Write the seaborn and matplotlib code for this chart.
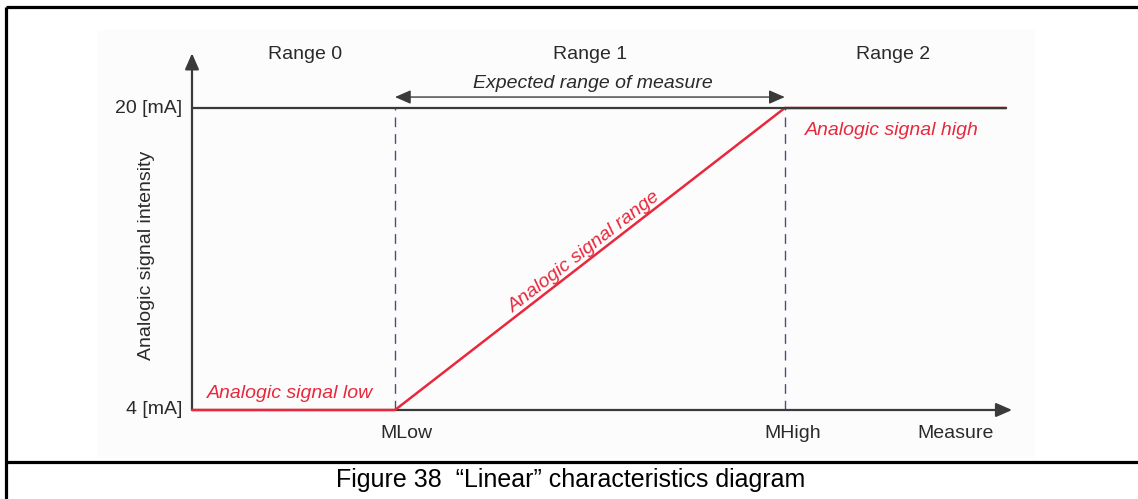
import matplotlib
matplotlib.use('Agg')
import matplotlib.pyplot as plt
from matplotlib.lines import Line2D
from matplotlib.patches import Rectangle
import seaborn as sns
import pandas as pd

sns.set_theme(style='white')
plt.rcParams['font.family'] = ['Liberation Sans', 'DejaVu Sans']

# ── Data ──────────────────────────────────────────────────────────
# measure axis in units of (MLow - origin)
M_LOW = 1.0
M_HIGH = 2.92
M_END = 4.01
I_LOW = 4      # mA
I_HIGH = 20    # mA
measure = [0, M_LOW, M_HIGH, M_END]
signal = [I_LOW, I_LOW, I_HIGH, I_HIGH]
range_labels = ['Range 0', 'Range 1', 'Range 2']
range_centers = [0.557, 1.961, 3.453]

RED = '#e8283c'
AXC = '#3a3a3a'
TXT = '#2a2a2a'
DASH = '#4a4f7a'

df = pd.DataFrame({'measure': measure, 'signal': signal})

W, H = 1138, 499
fig = plt.figure(figsize=(W / 100, H / 100), dpi=100, facecolor='white')
ax = fig.add_axes([0, 0, 1, 1])
# data limits chosen so the diagram sits where the reference puts it
ax.set_xlim(-192 / 203, (W - 192) / 203)
ax.set_ylim(4 - (H - 410) / 18.875, 4 + 410 / 18.875)
ax.axis('off')

# faint drawing background + table frame
fig.add_artist(Rectangle((97 / W, 41 / H), 938 / W, 428 / H, transform=fig.transFigure,
                         facecolor='#fcfcfc', edgecolor='none', zorder=-5))
frame = dict(color='black', lw=2.3, transform=fig.transFigure, solid_capstyle='butt')
fig.add_artist(Line2D([6 / W, 6 / W], [0, 1 - 7 / H], **frame))
fig.add_artist(Line2D([6 / W, 1], [1 - 7 / H, 1 - 7 / H], **frame))
fig.add_artist(Line2D([6 / W, 1], [1 - 462 / H, 1 - 462 / H], **frame))

# axes with arrows
arrow = dict(arrowstyle='-|>,head_length=0.8,head_width=0.35', color=AXC, lw=1.6,
             mutation_scale=12, shrinkA=0, shrinkB=0)
ax.annotate('', xy=(0, 22.9), xytext=(0, I_LOW), arrowprops=arrow)
ax.annotate('', xy=(4.04, I_LOW), xytext=(0, I_LOW), arrowprops=arrow)

# 20 mA reference line
ax.plot([0, M_END], [I_HIGH, I_HIGH], color=AXC, lw=1.6, zorder=4)

# dashed MLow / MHigh markers
for mx in (M_LOW, M_HIGH):
    ax.plot([mx, mx], [I_LOW, I_HIGH], color=DASH, lw=1.0, dashes=(7, 5), zorder=1)

# signal characteristic
sns.lineplot(data=df, x='measure', y='signal', sort=False, estimator=None,
             color=RED, lw=1.8, ax=ax, zorder=3)
ax.set_xlabel('')
ax.set_ylabel('')

# expected range double arrow
ax.annotate('', xy=(M_HIGH, 20.58), xytext=(M_LOW, 20.58),
            arrowprops=dict(arrowstyle='<|-|>,head_length=0.8,head_width=0.35', color=AXC,
                            lw=1.0, mutation_scale=12, shrinkA=0, shrinkB=0))
ax.text(1.975, 21.32, 'Expected range of measure', ha='center', va='center',
        fontsize=14, style='italic', color=TXT)

for lab, cx in zip(range_labels, range_centers):
    ax.text(cx, 22.81, lab, ha='center', va='center', fontsize=14, color=TXT)

ax.text(-0.049, I_HIGH, f'{I_HIGH} [mA]', ha='right', va='center', fontsize=14, color=TXT)
ax.text(-0.049, I_LOW, f'{I_LOW} [mA]', ha='right', va='center', fontsize=14, color=TXT)
ax.text(-0.222, 12.21, 'Analogic signal intensity', ha='center', va='center',
        rotation=90, fontsize=14, color=TXT)

ax.text(1.054, 2.78, 'MLow', ha='center', va='center', fontsize=14, color=TXT)
ax.text(2.96, 2.78, 'MHigh', ha='center', va='center', fontsize=14, color=TXT)
ax.text(3.759, 2.78, 'Measure', ha='center', va='center', fontsize=14, color=TXT)

ax.text(0.483, 4.90, 'Analogic signal low', ha='center', va='center', fontsize=14,
        style='italic', color=RED)
ax.text(3.448, 18.83, 'Analogic signal high', ha='center', va='center', fontsize=14,
        style='italic', color=RED)
ax.text(1.936, 12.37, 'Analogic signal range', ha='center', va='center', fontsize=14,
        style='italic', color=RED, rotation=37.75, rotation_mode='anchor')

fig.text(571 / W, 1 - 480 / H, 'Figure 38  \u201cLinear\u201d characteristics diagram',
         ha='center', va='center', fontsize=18, color='black')

plt.savefig('out.png', dpi=100, facecolor='white')
plt.close()
